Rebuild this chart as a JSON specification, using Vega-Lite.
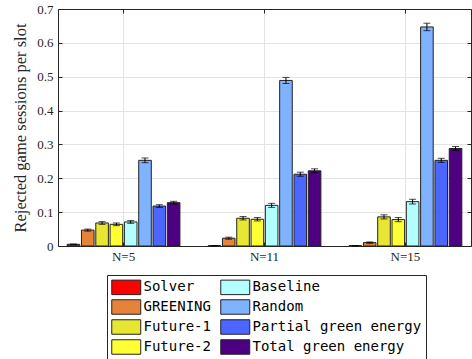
{
  "$schema": "https://vega.github.io/schema/vega-lite/v6.json",
  "width": 413,
  "height": 237,
  "autosize": {"type": "none"},
  "padding": {"left": 58, "top": 9, "right": 1, "bottom": 113},
  "background": "white",
  "config": {
    "view": {"stroke": null},
    "axis": {
      "labelFont": "Liberation Serif",
      "titleFont": "Liberation Serif",
      "labelColor": "#262626",
      "titleColor": "#262626",
      "domainColor": "#262626",
      "tickColor": "#262626",
      "gridColor": "#e3e3e3",
      "gridOpacity": 1
    }
  },
  "data": {
    "values": [
      {"N": "N=5", "method": "Solver", "value": 0.005, "lo": 0.004, "hi": 0.006},
      {"N": "N=5", "method": "GREENING", "value": 0.047, "lo": 0.044, "hi": 0.050},
      {"N": "N=5", "method": "Future-1", "value": 0.068, "lo": 0.064, "hi": 0.072},
      {"N": "N=5", "method": "Future-2", "value": 0.064, "lo": 0.060, "hi": 0.068},
      {"N": "N=5", "method": "Baseline", "value": 0.071, "lo": 0.067, "hi": 0.075},
      {"N": "N=5", "method": "Random", "value": 0.253, "lo": 0.246, "hi": 0.260},
      {"N": "N=5", "method": "Partial green energy", "value": 0.118, "lo": 0.114, "hi": 0.122},
      {"N": "N=5", "method": "Total green energy", "value": 0.128, "lo": 0.124, "hi": 0.132},
      {"N": "N=11", "method": "Solver", "value": 0.001, "lo": 0.0005, "hi": 0.0015},
      {"N": "N=11", "method": "GREENING", "value": 0.023, "lo": 0.020, "hi": 0.026},
      {"N": "N=11", "method": "Future-1", "value": 0.082, "lo": 0.077, "hi": 0.087},
      {"N": "N=11", "method": "Future-2", "value": 0.079, "lo": 0.074, "hi": 0.084},
      {"N": "N=11", "method": "Baseline", "value": 0.120, "lo": 0.114, "hi": 0.126},
      {"N": "N=11", "method": "Random", "value": 0.489, "lo": 0.480, "hi": 0.498},
      {"N": "N=11", "method": "Partial green energy", "value": 0.212, "lo": 0.206, "hi": 0.218},
      {"N": "N=11", "method": "Total green energy", "value": 0.222, "lo": 0.216, "hi": 0.228},
      {"N": "N=15", "method": "Solver", "value": 0.001, "lo": 0.0005, "hi": 0.0015},
      {"N": "N=15", "method": "GREENING", "value": 0.010, "lo": 0.008, "hi": 0.012},
      {"N": "N=15", "method": "Future-1", "value": 0.086, "lo": 0.080, "hi": 0.092},
      {"N": "N=15", "method": "Future-2", "value": 0.078, "lo": 0.072, "hi": 0.084},
      {"N": "N=15", "method": "Baseline", "value": 0.131, "lo": 0.124, "hi": 0.138},
      {"N": "N=15", "method": "Random", "value": 0.647, "lo": 0.636, "hi": 0.658},
      {"N": "N=15", "method": "Partial green energy", "value": 0.253, "lo": 0.247, "hi": 0.259},
      {"N": "N=15", "method": "Total green energy", "value": 0.288, "lo": 0.282, "hi": 0.294}
    ]
  },
  "resolve": {"axis": {"x": "independent", "y": "independent"}},
  "layer": [
    {
      "mark": {"type": "bar", "stroke": "#222222", "strokeWidth": 1},
      "encoding": {
        "x": {
          "field": "N", "type": "nominal", "sort": ["N=5", "N=11", "N=15"],
          "scale": {"paddingInner": 0.2, "paddingOuter": 0.065},
          "axis": {"title": null, "labelAngle": 0, "labelFontSize": 13, "tickSize": -4, "labelPadding": 8, "grid": true, "domainWidth": 1}
        },
        "xOffset": {
          "field": "method", "type": "nominal",
          "sort": ["Solver", "GREENING", "Future-1", "Future-2", "Baseline", "Random", "Partial green energy", "Total green energy"],
          "scale": {"paddingInner": 0.12, "paddingOuter": 0}
        },
        "y": {
          "field": "value", "type": "quantitative",
          "scale": {"domain": [0, 0.7], "nice": false},
          "axis": {
            "title": "Rejected game sessions per slot",
            "titleFontSize": 16.5, "titleFontWeight": "normal", "titlePadding": 8,
            "values": [0, 0.1, 0.2, 0.3, 0.4, 0.5, 0.6, 0.7],
            "labelExpr": "datum.value == 0 ? '0' : format(datum.value, '.1f')",
            "labelFontSize": 13, "tickSize": -4, "labelPadding": 9, "grid": true
          }
        },
        "color": {
          "field": "method", "type": "nominal",
          "scale": {
            "domain": ["Solver", "GREENING", "Future-1", "Future-2", "Baseline", "Random", "Partial green energy", "Total green energy"],
            "range": ["#ff0000", "#e6833a", "#e6e633", "#ffff33", "#b3ffff", "#80b3ff", "#4d66ff", "#4d0080"]
          },
          "legend": {
            "title": null,
            "orient": "none",
            "legendX": 49,
            "legendY": 266,
            "columns": 2,
            "columnPadding": 7,
            "rowPadding": 0,
            "padding": 4,
            "symbolType": "M-1,-1H3V1H-1Z",
            "symbolSize": 210,
            "symbolStrokeColor": "#222222",
            "symbolStrokeWidth": 1,
            "symbolOpacity": 1,
            "labelFont": "DejaVu Sans Mono",
            "labelFontSize": 14,
            "labelColor": "#000000",
            "labelOffset": 16.5,
            "labelLimit": 300,
            "strokeColor": "#262626",
            "fillColor": "white"
          }
        }
      }
    },
    {
      "mark": {"type": "rule", "color": "#000000", "strokeWidth": 1},
      "encoding": {
        "x": {
          "field": "N", "type": "nominal", "sort": ["N=5", "N=11", "N=15"],
          "axis": {"orient": "top", "title": null, "labels": false, "grid": false, "tickSize": -4}
        },
        "xOffset": {
          "field": "method", "type": "nominal",
          "sort": ["Solver", "GREENING", "Future-1", "Future-2", "Baseline", "Random", "Partial green energy", "Total green energy"]
        },
        "y": {
          "field": "lo", "type": "quantitative",
          "axis": {"orient": "right", "title": null, "labels": false, "grid": false, "tickSize": -4, "values": [0, 0.1, 0.2, 0.3, 0.4, 0.5, 0.6, 0.7]}
        },
        "y2": {"field": "hi"}
      }
    },
    {
      "mark": {"type": "tick", "color": "#000000", "thickness": 1, "size": 7},
      "encoding": {
        "x": {"field": "N", "type": "nominal", "sort": ["N=5", "N=11", "N=15"], "axis": null},
        "xOffset": {
          "field": "method", "type": "nominal",
          "sort": ["Solver", "GREENING", "Future-1", "Future-2", "Baseline", "Random", "Partial green energy", "Total green energy"]
        },
        "y": {"field": "lo", "type": "quantitative", "axis": null}
      }
    },
    {
      "mark": {"type": "tick", "color": "#000000", "thickness": 1, "size": 7},
      "encoding": {
        "x": {"field": "N", "type": "nominal", "sort": ["N=5", "N=11", "N=15"], "axis": null},
        "xOffset": {
          "field": "method", "type": "nominal",
          "sort": ["Solver", "GREENING", "Future-1", "Future-2", "Baseline", "Random", "Partial green energy", "Total green energy"]
        },
        "y": {"field": "hi", "type": "quantitative", "axis": null}
      }
    }
  ]
}
